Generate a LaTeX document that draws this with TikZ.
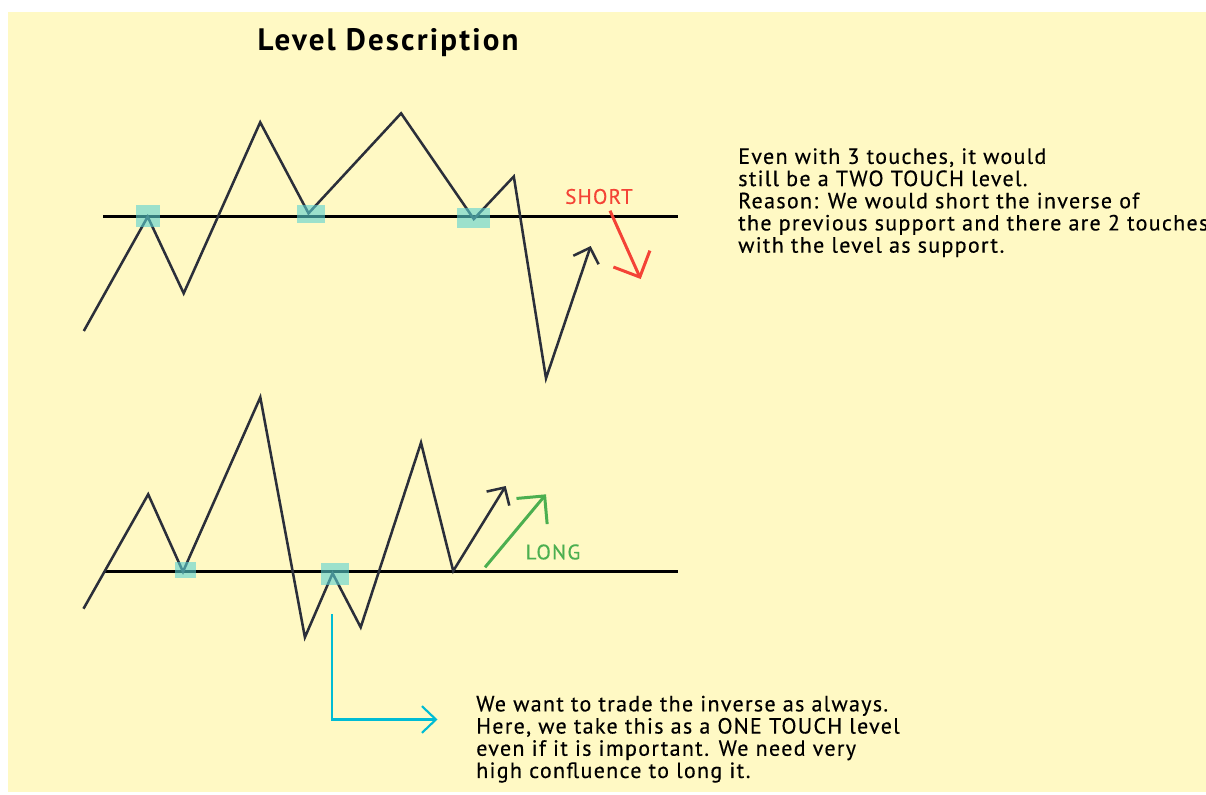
\documentclass[tikz,border=0pt]{standalone}
\usepackage{xcolor}
\usepackage{fontspec}
\setmainfont{PT Sans}
\newfontfamily\notefont[LetterSpace=6, FakeBold=0.4]{PT Sans}
\newfontfamily\titlefont[LetterSpace=7]{PT Sans}
\usepackage{tikz}
\usetikzlibrary{arrows.meta, positioning}

\definecolor{paper}{RGB}{255,249,196}
\definecolor{ink}{RGB}{43,47,58}
\definecolor{touchteal}{RGB}{90,210,210}
\definecolor{shortred}{RGB}{244,67,54}
\definecolor{longgreen}{RGB}{76,175,80}
\definecolor{pointer}{RGB}{0,188,212}

\begin{document}
\begin{tikzpicture}[
        x=0.75pt,
        y=-0.75pt,
        >=Latex,
        price/.style={
            draw=ink,
            line width=1.9pt
        },
        level/.style={
            draw=black,
            line width=2.4pt
        },
        touch/.style={
            fill=touchteal,
            fill opacity=0.6
        },
        note/.style={
            anchor=north west,
            inner sep=0pt,
            align=left,
            text=black,
            font=\notefont\fontsize{16.5}{16.65}\selectfont
        },
        signal/.style={
            inner sep=0pt,
            font=\notefont\fontsize{15.75}{16}\selectfont
        }
    ]

    % Background
    \useasboundingbox (0,0) rectangle (1206,794);
    \fill[white] (0,0) rectangle (1206,794);
    \fill[paper] (8,12) rectangle (1206,792);

    % Title
    \node[font=\titlefont\fontsize{23.25}{27}\selectfont\bfseries] (title) at (388,43) {Level Description};

    % Top chart
    \draw[level] (103,216.5) -- (678,216.5);
    \draw[price, -{Straight Barb[length=9.75pt, width=20pt]}]
        (83.8,331) -- (147.7,216.7) -- (183.7,293.3) -- (260.2,122.3) -- (308.5,213.3)
        -- (401.1,113.3) -- (473.8,219) -- (513.8,176.5) -- (546,378.3) -- (590.7,246);
    \fill[touch] (135.9,205) rectangle (159.6,226.7);
    \fill[touch] (296.6,205) rectangle (324.9,222.7);
    \fill[touch] (457.3,208.3) rectangle (490.2,228);

    \node[signal, text=shortred] (short) at (599,196.5) {SHORT};
    \coordinate (short start) at (610,210.7);
    \coordinate (short end) at (640.7,279);
    \draw[shortred, line width=2.25pt, -{Straight Barb[length=15pt, width=30pt]}] (short start) -- (short end);

    \node[note] (two touch) at (738,148) {Even with 3 touches, it would\\still be a TWO TOUCH level.\\Reason: We would short the inverse of\\the previous support and there are 2 touches\\with the level as support.};

    % Bottom chart
    \draw[level] (103.6,571.5) -- (678,571.5);
    \draw[price, -{Straight Barb[length=9.75pt, width=20pt]}]
        (83.5,608.7) -- (148.2,494.3) -- (183,571.7) -- (260.3,397.3) -- (304.9,637.3)
        -- (332.6,573.3) -- (360.7,627.3) -- (421,442.7) -- (453.2,571) -- (505.7,486);
    \fill[touch] (175,561.7) rectangle (195.5,577.7);
    \fill[touch] (320.5,562.7) rectangle (349,585);

    \node[signal, text=longgreen] (long) at (553,552) {LONG};
    \coordinate (long start) at (485,567.3);
    \coordinate (long end) at (546,494.3);
    \draw[longgreen, line width=2.25pt, -{Straight Barb[length=15pt, width=30pt]}] (long start) -- (long end);

    \node[note] (one touch) at (476,695.5) {We want to trade the inverse as always.\\Here, we take this as a ONE TOUCH level\\even if it is important. We need very\\high confluence to long it.};

    % Pointer
    \coordinate (pointer start) at (331.7,614.3);
    \coordinate (pointer end) at (437.5,719.5);
    \draw[pointer, line width=1.6pt, -{Straight Barb[length=10.5pt, width=20pt]}] (pointer start) |- (pointer end);

\end{tikzpicture}
\end{document}
